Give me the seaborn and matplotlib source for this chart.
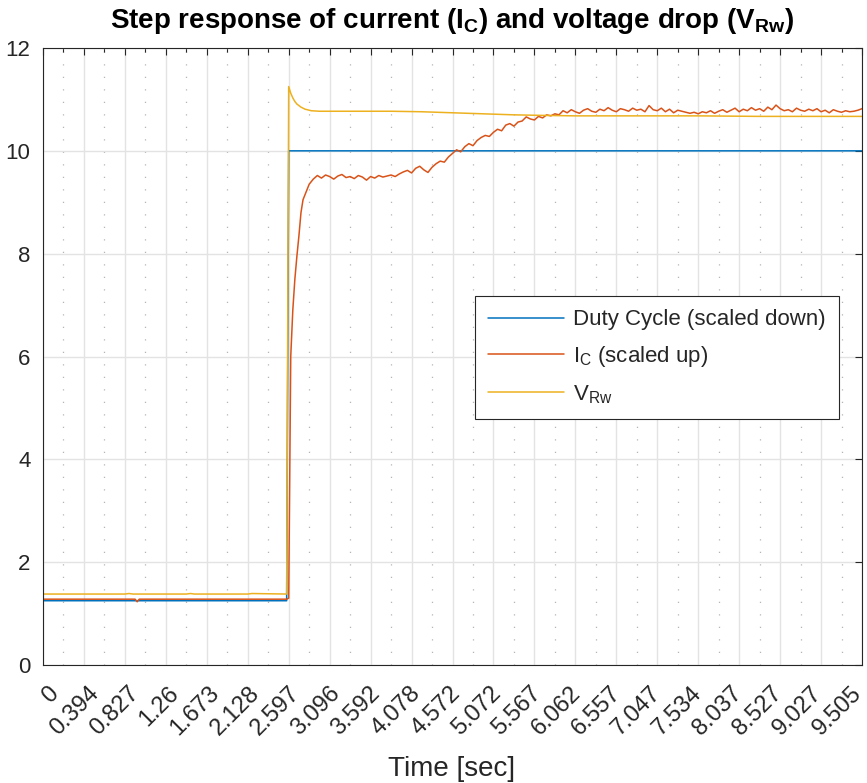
import numpy as np
import pandas as pd
import matplotlib
matplotlib.use("Agg")
import matplotlib.pyplot as plt
import matplotlib.transforms as mtransforms
import seaborn as sns

# ---------------- data ----------------
# x axis = sample index (20 samples per labelled tick)
tick_samples = [0, 20, 40, 60, 80, 100, 120, 140, 160, 180, 200,
                220, 240, 260, 280, 300, 320, 340, 360, 380, 400]
tick_labels = ["0", "0.394", "0.827", "1.26", "1.673", "2.128", "2.597",
               "3.096", "3.592", "4.078", "4.572", "5.072", "5.567", "6.062",
               "6.557", "7.047", "7.534", "8.037", "8.527", "9.027", "9.505"]

duty_sample = [0, 119, 120, 400]
duty_value = [1.25, 1.25, 10.0, 10.0]

vrw_sample = [0, 40, 42, 44, 70, 72, 74, 100, 102, 119, 120, 121, 122, 123,
              124, 126, 128, 131, 135, 150, 170, 185, 200, 215, 230, 243,
              260, 290, 320, 350, 380, 400]
vrw_value = [1.38, 1.38, 1.39, 1.38, 1.38, 1.39, 1.38, 1.38, 1.39, 1.38,
             11.25, 11.12, 11.03, 10.96, 10.91, 10.85, 10.81, 10.78, 10.77,
             10.77, 10.77, 10.76, 10.74, 10.72, 10.70, 10.69, 10.68, 10.68,
             10.68, 10.67, 10.67, 10.67]

ic_sample_start = [0, 45, 46, 47, 119, 120, 121, 122, 123, 124, 125, 126,
                   127, 128, 129, 130, 132]
ic_value_start = [1.28, 1.28, 1.23, 1.28, 1.28, 1.30, 6.00, 6.90, 7.50,
                  7.95, 8.35, 8.80, 9.05, 9.15, 9.25, 9.35, 9.45]
ic_value_dense = [  # samples 134, 136, ..., 400
    9.52, 9.47, 9.53, 9.50, 9.45, 9.51, 9.54, 9.48, 9.50, 9.46,
    9.52, 9.49, 9.43, 9.50, 9.47, 9.52, 9.49, 9.51, 9.53, 9.50, 9.55,
    9.59, 9.62, 9.57, 9.66, 9.70, 9.63, 9.58, 9.68, 9.75, 9.80,
    9.78, 9.88, 9.95, 10.02, 9.98, 10.08, 10.14, 10.10, 10.20, 10.26,
    10.30, 10.28, 10.36, 10.42, 10.39, 10.50, 10.53, 10.48, 10.56, 10.58,
    10.66, 10.62, 10.60, 10.67, 10.64, 10.70, 10.68, 10.72, 10.70, 10.78,
    10.74, 10.80, 10.76, 10.73, 10.79, 10.82, 10.77, 10.75, 10.81, 10.78,
    10.84, 10.79, 10.76, 10.82, 10.80, 10.77, 10.83, 10.79, 10.81, 10.76,
    10.88, 10.80, 10.78, 10.83, 10.76, 10.81, 10.74, 10.79, 10.77, 10.75,
    10.73, 10.75, 10.72, 10.76, 10.74, 10.78, 10.73, 10.77, 10.80, 10.75,
    10.79, 10.83, 10.76, 10.81, 10.78, 10.84, 10.79, 10.82, 10.77, 10.85,
    10.80, 10.89, 10.82, 10.78, 10.80, 10.76, 10.83, 10.79, 10.77, 10.81,
    10.78, 10.82, 10.76, 10.79, 10.74, 10.80, 10.77, 10.75, 10.78, 10.76,
    10.77, 10.79, 10.82]
ic_sample = ic_sample_start + list(range(134, 401, 2))
ic_value = ic_value_start + ic_value_dense

labels = ["Duty Cycle (scaled down)", r"I$_\mathrm{C}$ (scaled up)", r"V$_\mathrm{Rw}$"]
colors = ["#0072BD", "#D95319", "#EDB120"]

# ---------------- style ----------------
sns.set_theme(style="white")
plt.rcParams["font.family"] = ["Liberation Sans", "DejaVu Sans"]
plt.rcParams["mathtext.fontset"] = "custom"
plt.rcParams["mathtext.rm"] = "Liberation Sans"
plt.rcParams["mathtext.bf"] = "Liberation Sans:bold"
plt.rcParams["mathtext.it"] = "Liberation Sans:italic"

fig = plt.figure(figsize=(8.67, 7.83), dpi=100)
ax = fig.add_axes([43 / 867, 1 - 665 / 783, 819 / 867, 617 / 783])

dark = "#262626"

df_duty = pd.DataFrame({"s": duty_sample, "v": duty_value})
df_ic = pd.DataFrame({"s": ic_sample, "v": ic_value})
df_vrw = pd.DataFrame({"s": vrw_sample, "v": vrw_value})

for df, lab, col in zip([df_duty, df_ic, df_vrw], labels, colors):
    sns.lineplot(data=df, x="s", y="v", ax=ax, color=col, linewidth=1.1,
                 label=lab, estimator=None, sort=False)

ax.set_xlim(0, 400)
ax.set_ylim(0, 12)
ax.set_xticks(tick_samples)
ax.set_xticks([t + 10 for t in tick_samples[:-1]], minor=True)
ax.set_yticks([0, 2, 4, 6, 8, 10, 12])
ax.set_yticklabels(["0", "2", "4", "6", "8", "10", "12"])
ax.set_xticklabels(tick_labels, rotation=45, ha="right", va="center",
                   rotation_mode="anchor")

ax.tick_params(axis="both", which="both", direction="in", top=True, right=True,
               colors=dark, labelcolor=dark, width=0.8)
ax.tick_params(axis="x", which="major", labelsize=17, pad=18)
ax.tick_params(axis="y", which="major", labelsize=16, pad=9)
ax.tick_params(axis="both", which="major", length=5)
ax.tick_params(axis="x", which="minor", length=3)

for i, lbl in enumerate(ax.get_xticklabels()):
    dx = (12.5 - 0.79 * i) / 100.0
    lbl.set_transform(lbl.get_transform() +
                      mtransforms.ScaledTranslation(dx, 0, fig.dpi_scale_trans))

ax.grid(True, which="major", axis="both", color="#e3e3e3", linewidth=1.0, linestyle="-")
ax.grid(True, which="minor", axis="x", color="#b5b5b5", linewidth=0.9,
        linestyle=(0, (1, 9)))
ax.set_axisbelow(True)

for sp in ax.spines.values():
    sp.set_color(dark)
    sp.set_linewidth(0.8)

ax.set_xlabel("Time [sec]", fontsize=20, color=dark)
ax.xaxis.set_label_coords(0.4985, -0.148)
ax.set_ylabel("")
ax.set_title(r"Step response of current (I$_\mathbf{C}$) and voltage drop (V$_\mathbf{Rw}$)",
             fontsize=20, fontweight="bold", color="black", pad=14.5)

leg = ax.legend(loc="upper left", bbox_to_anchor=(0.5275, 0.598), fontsize=16,
                frameon=True, fancybox=False, edgecolor=dark, framealpha=1,
                handlelength=3.4, handletextpad=0.4, borderaxespad=0,
                borderpad=0.6, labelspacing=0.62)
leg.get_frame().set_linewidth(0.8)
for line in leg.get_lines():
    line.set_linewidth(1.1)

fig.savefig("out.png", dpi=100)
